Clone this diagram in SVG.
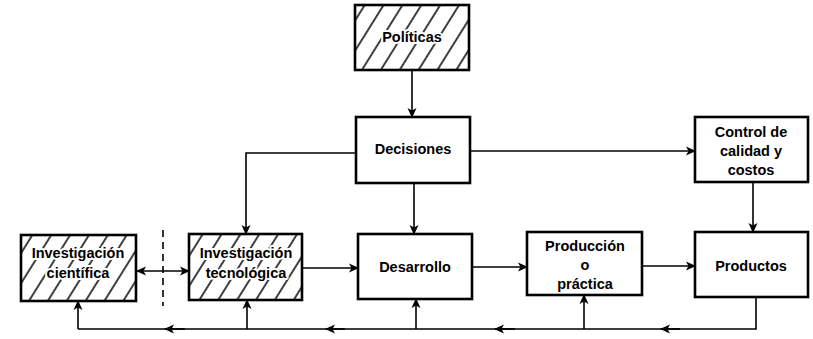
<svg xmlns="http://www.w3.org/2000/svg" width="813" height="339" viewBox="0 0 813 339">
<defs>
<pattern id="hatch" patternUnits="userSpaceOnUse" width="16" height="16" patternTransform="rotate(32)">
<line x1="8" y1="0" x2="8" y2="16" stroke="#000" stroke-width="1.5"/>
</pattern>
<marker id="ah" viewBox="0 0 10 10" refX="9" refY="5" markerWidth="10" markerHeight="10" markerUnits="userSpaceOnUse" orient="auto-start-reverse">
<path d="M0,0.5 L10,5 L0,9.5 L2.5,5 z" fill="#000"/>
</marker>
<style>
.box{fill:#fff;stroke:#000;stroke-width:2.6}
.hb{fill:url(#hatch);stroke:#000;stroke-width:2.6}
.t{font-family:"Liberation Sans",Arial,sans-serif;font-weight:bold;font-size:14.5px;text-anchor:middle;fill:#000}
.th{paint-order:stroke;stroke:#fff;stroke-width:4;stroke-linejoin:round}
.c{fill:none;stroke:#000;stroke-width:1.6}
.a{marker-end:url(#ah)}
</style>
</defs>
<rect width="813" height="339" fill="#fff"/>
<g id="connectors">
<path class="c a" d="M412,70 V117"/>
<path class="c a" d="M356,153 H246 V234"/>
<path class="c a" d="M414,183 V234"/>
<path class="c a" d="M470,151 H695"/>
<path class="c a" d="M753,182 V232"/>
<path class="c a" d="M302,268 H358"/>
<path class="c a" d="M472,267 H527"/>
<path class="c a" d="M642,266 H695"/>
<path class="c a" d="M137,271 H189" style="marker-start:url(#ah)"/>
<path class="c" d="M756,297 V329 H78"/>
<path class="c a" d="M78,329 V301"/>
<path class="c a" d="M247,329 V300"/>
<path class="c a" d="M416,329 V299"/>
<path class="c a" d="M584,329 V295"/>
<path class="c a" d="M680,329 H661"/>
<path class="c a" d="M515,329 H495"/>
<path class="c a" d="M345,329 H326"/>
<path class="c a" d="M185,329 H165"/>
<path d="M163,230 V306" fill="none" stroke="#000" stroke-width="1.6" stroke-dasharray="7,5"/>
</g>
<g id="politicas">
<rect class="hb" x="355" y="5" width="114" height="65"/>
<text class="t th" x="412" y="42">Políticas</text>
</g>
<g id="decisiones">
<rect class="box" x="356" y="117" width="114" height="66"/>
<text class="t" x="413" y="154">Decisiones</text>
</g>
<g id="control">
<rect class="box" x="695" y="117" width="113" height="65"/>
<text class="t" x="751" y="137">Control de</text>
<text class="t" x="751" y="156">calidad y</text>
<text class="t" x="751" y="175">costos</text>
</g>
<g id="inv-cientifica">
<rect class="hb" x="21" y="235" width="115" height="66"/>
<text class="t th" x="78" y="258">Investigación</text>
<text class="t th" x="78" y="278">científica</text>
</g>
<g id="inv-tecnologica">
<rect class="hb" x="189" y="234" width="113" height="66"/>
<text class="t th" x="246" y="258">Investigación</text>
<text class="t th" x="246" y="278">tecnológica</text>
</g>
<g id="desarrollo">
<rect class="box" x="358" y="234" width="114" height="65"/>
<text class="t" x="415" y="272">Desarrollo</text>
</g>
<g id="produccion">
<rect class="box" x="527" y="232" width="115" height="63"/>
<text class="t" x="585" y="251">Producción</text>
<text class="t" x="585" y="270">o</text>
<text class="t" x="585" y="289">práctica</text>
</g>
<g id="productos">
<rect class="box" x="695" y="232" width="113" height="65"/>
<text class="t" x="751" y="271">Productos</text>
</g>
</svg>
